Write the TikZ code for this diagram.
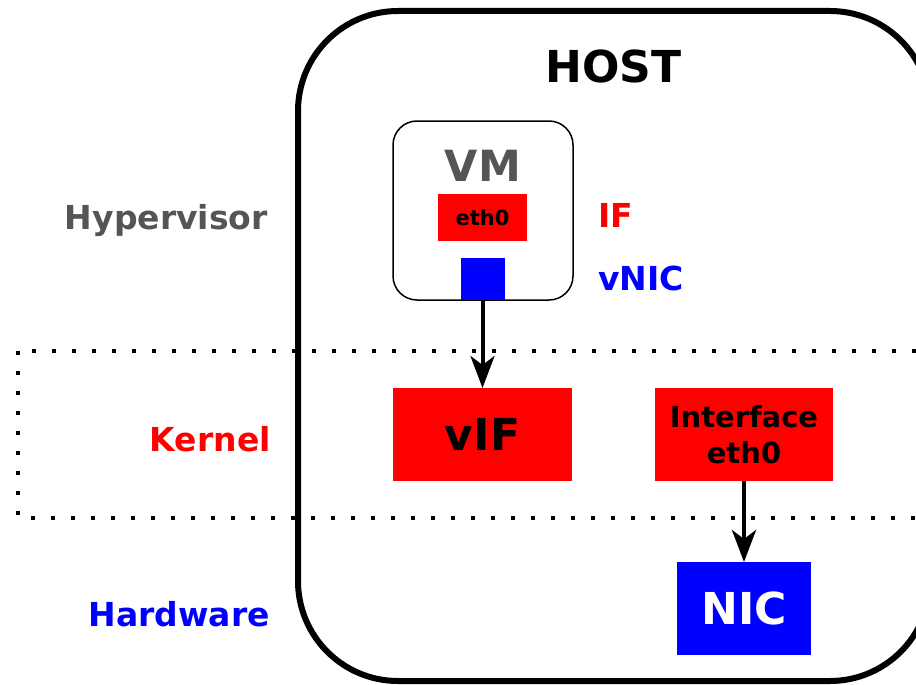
\documentclass[tikz,border=0pt]{standalone}
\usepackage{fontspec}
\setmainfont{DejaVu Sans}
\usetikzlibrary{arrows.meta}
\definecolor{hred}{HTML}{FF0000}
\definecolor{hblue}{HTML}{0000FF}
\definecolor{hgray}{HTML}{555555}
\begin{document}
\begin{tikzpicture}[x=1pt,y=-1pt,
  bigtext/.style={font=\fontsize{44}{53}\selectfont\bfseries, inner sep=0pt},
  labtext/.style={font=\fontsize{33}{40}\selectfont\bfseries, inner sep=0pt},
  boxnode/.style={rectangle, inner sep=0pt, outer sep=0pt},
  redbox/.style={boxnode, fill=hred},
  bluebox/.style={boxnode, fill=hblue},
  arr/.style={line width=4pt, -{Stealth[length=32pt,width=24pt,inset=9pt]}},
  layer/.style={line width=4pt, dash pattern=on 4pt off 16pt}
]
\useasboundingbox (0,0) rectangle (916,685);
\clip (0,0) rectangle (916,685);
\fill[white] (0,0) rectangle (916,685);

% kernel layer (dotted)
\draw[layer] (18,351) rectangle (960,518);

% host box
\node[boxnode, draw, line width=6pt, rounded corners=100pt,
      minimum width=632pt, minimum height=670pt] (host) at (614,346) {};
\node[bigtext, anchor=base] (hosttitle) at (613.5,83) {HOST};

% VM
\node[boxnode, draw, line width=1.5pt, rounded corners=24pt,
      minimum width=180pt, minimum height=179pt] (vm) at (483,210.5) {};
\node[bigtext, text=hgray, font=\fontsize{43}{52}\selectfont\bfseries, anchor=base] (vmtitle) at (483,181) {VM};
\node[redbox, minimum width=89pt, minimum height=47pt,
      font=\fontsize{21}{25}\selectfont\bfseries] (eth) at (482.5,217.5) {eth0};
\node[bluebox, minimum width=44pt, minimum height=42pt] (vnicsq) at (482.5,279) {};

% kernel boxes
\node[redbox, minimum width=179pt, minimum height=93pt, bigtext] (vif) at (482.5,434.5) {vIF};
\node[redbox, minimum width=178pt, minimum height=93pt, align=center,
      font=\fontsize{29}{36}\selectfont\bfseries] (iface) at (744,434.5) {Interface\\eth0};

% hardware
\node[bluebox, minimum width=134pt, minimum height=93pt, bigtext, text=white] (nic) at (744,608.5) {NIC};

% side labels
\node[labtext, text=hred, anchor=base west] (iflab) at (598,227) {IF};
\node[labtext, text=hblue, anchor=base west] (vniclab) at (598,290) {vNIC};
\node[labtext, text=hgray, anchor=base east] (hyplab) at (268,229) {Hypervisor};
\node[labtext, text=hred, anchor=base east] (kernlab) at (271,451) {Kernel};
\node[labtext, text=hblue, anchor=base east] (hwlab) at (270,626) {Hardware};

% connectors
\draw[arr] (vnicsq.south) -- (vif.north);
\draw[arr] (iface.south) -- (nic.north);
\end{tikzpicture}
\end{document}
